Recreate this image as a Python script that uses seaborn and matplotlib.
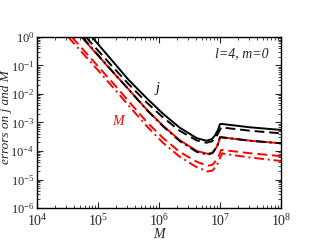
import numpy as np
import pandas as pd
import matplotlib
matplotlib.use("Agg")
import matplotlib.pyplot as plt
import seaborn as sns

# values, stored as log10(M) and log10(error)
logM_j_solid = [4.90, 5.20, 5.50, 5.80, 6.07, 6.34, 6.62, 6.78, 6.87, 6.92, 6.97, 7.00, 7.03, 7.50, 8.00]
logE_j_solid = [0.00, -0.75, -1.50, -2.15, -2.70, -3.18, -3.55, -3.64, -3.58, -3.45, -3.25, -3.06, -3.05, -3.17, -3.26]

logM_j_dash = [4.80, 5.20, 5.50, 5.80, 6.07, 6.34, 6.62, 6.78, 6.87, 6.94, 6.99, 7.02, 7.05, 7.50, 8.00]
logE_j_dash = [0.00, -0.95, -1.65, -2.30, -2.83, -3.29, -3.63, -3.71, -3.66, -3.50, -3.30, -3.17, -3.18, -3.29, -3.38]

logM_j_dashdot = [4.74, 5.20, 5.52, 5.80, 6.07, 6.34, 6.62, 6.80, 6.88, 6.95, 6.98, 7.00, 7.03, 7.50, 8.00]
logE_j_dashdot = [0.00, -1.12, -1.88, -2.56, -3.14, -3.65, -4.03, -4.13, -4.07, -3.86, -3.68, -3.52, -3.52, -3.64, -3.73]

logM_M_solid = [4.73, 5.20, 5.52, 5.80, 6.07, 6.34, 6.62, 6.80, 6.88, 6.95, 6.98, 7.00, 7.03, 7.50, 8.00]
logE_M_solid = [0.00, -1.13, -1.88, -2.55, -3.12, -3.62, -4.00, -4.10, -4.05, -3.85, -3.68, -3.52, -3.52, -3.64, -3.73]

logM_M_dash = [4.57, 5.00, 5.30, 5.52, 5.80, 6.07, 6.34, 6.62, 6.80, 6.88, 6.95, 7.00, 7.02, 7.06, 7.50, 8.00]
logE_M_dash = [0.00, -1.03, -1.75, -2.30, -2.98, -3.55, -4.03, -4.38, -4.52, -4.48, -4.30, -4.08, -3.96, -3.97, -4.08, -4.18]

logM_M_dashdot = [4.51, 5.00, 5.30, 5.52, 5.80, 6.07, 6.34, 6.62, 6.80, 6.88, 6.95, 7.00, 7.04, 7.08, 7.50, 8.00]
logE_M_dashdot = [0.00, -1.17, -1.90, -2.45, -3.13, -3.72, -4.20, -4.57, -4.72, -4.68, -4.50, -4.25, -4.08, -4.10, -4.23, -4.35]

x_ticks = [1e4, 1e5, 1e6, 1e7, 1e8]
y_ticks = [1e-6, 1e-5, 1e-4, 1e-3, 1e-2, 1e-1, 1e0]

sns.set_style("ticks")
plt.rcParams["font.family"] = ["Liberation Serif", "DejaVu Serif"]
plt.rcParams["mathtext.fontset"] = "stix"
plt.rcParams["axes.unicode_minus"] = False

fig = plt.figure(figsize=(3.17, 2.45), dpi=100)
ax = fig.add_axes([0.117, 0.151, 0.769, 0.698])

series = [
    (logM_M_solid, logE_M_solid, "red", "-"),
    (logM_M_dash, logE_M_dash, "red", (0, (5, 2.5))),
    (logM_M_dashdot, logE_M_dashdot, "red", (0, (5, 2, 1, 2))),
    (logM_j_solid, logE_j_solid, "black", "-"),
    (logM_j_dash, logE_j_dash, "black", (0, (5, 2.5))),
    (logM_j_dashdot, logE_j_dashdot, "black", (0, (5, 2, 1, 2))),
]
for lm, le, col, ls in series:
    df = pd.DataFrame({"M": 10.0 ** np.array(lm), "err": 10.0 ** np.array(le)})
    sns.lineplot(data=df, x="M", y="err", ax=ax, color=col, linestyle=ls,
                 lw=1.4, sort=False, estimator=None)

ax.set_xscale("log")
ax.set_yscale("log")
ax.set_xlim(1e4, 1e8)
ax.set_ylim(1e-6, 1e0)
ax.set_xticks(x_ticks)
ax.set_yticks(y_ticks)
ax.tick_params(which="both", direction="in", top=True, right=True)
ax.tick_params(which="major", length=4, width=0.8)
ax.tick_params(which="minor", length=2, width=0.6)
ax.tick_params(axis="x", labelsize=10, pad=4)
ax.tick_params(axis="y", labelsize=9, pad=2)
for s in ax.spines.values():
    s.set_linewidth(1.0)
    s.set_color("black")

ax.set_xlabel("M", fontsize=10, fontstyle="italic", labelpad=-1)
ax.set_ylabel("errors on j and M", fontsize=9.5, fontstyle="italic")
ax.yaxis.set_label_coords(-0.102, 0.53)

ax.text(10 ** 7.8, 10 ** -0.6, "l=4, m=0", fontsize=10, fontstyle="italic",
        ha="right", va="center")
ax.text(10 ** 5.97, 10 ** -1.79, "j", fontsize=10, fontstyle="italic",
        ha="center", va="center", color="black")
ax.text(10 ** 5.33, 10 ** -2.98, "M", fontsize=10, fontstyle="italic",
        ha="center", va="center", color="red")

fig.savefig("out.png", dpi=100)
